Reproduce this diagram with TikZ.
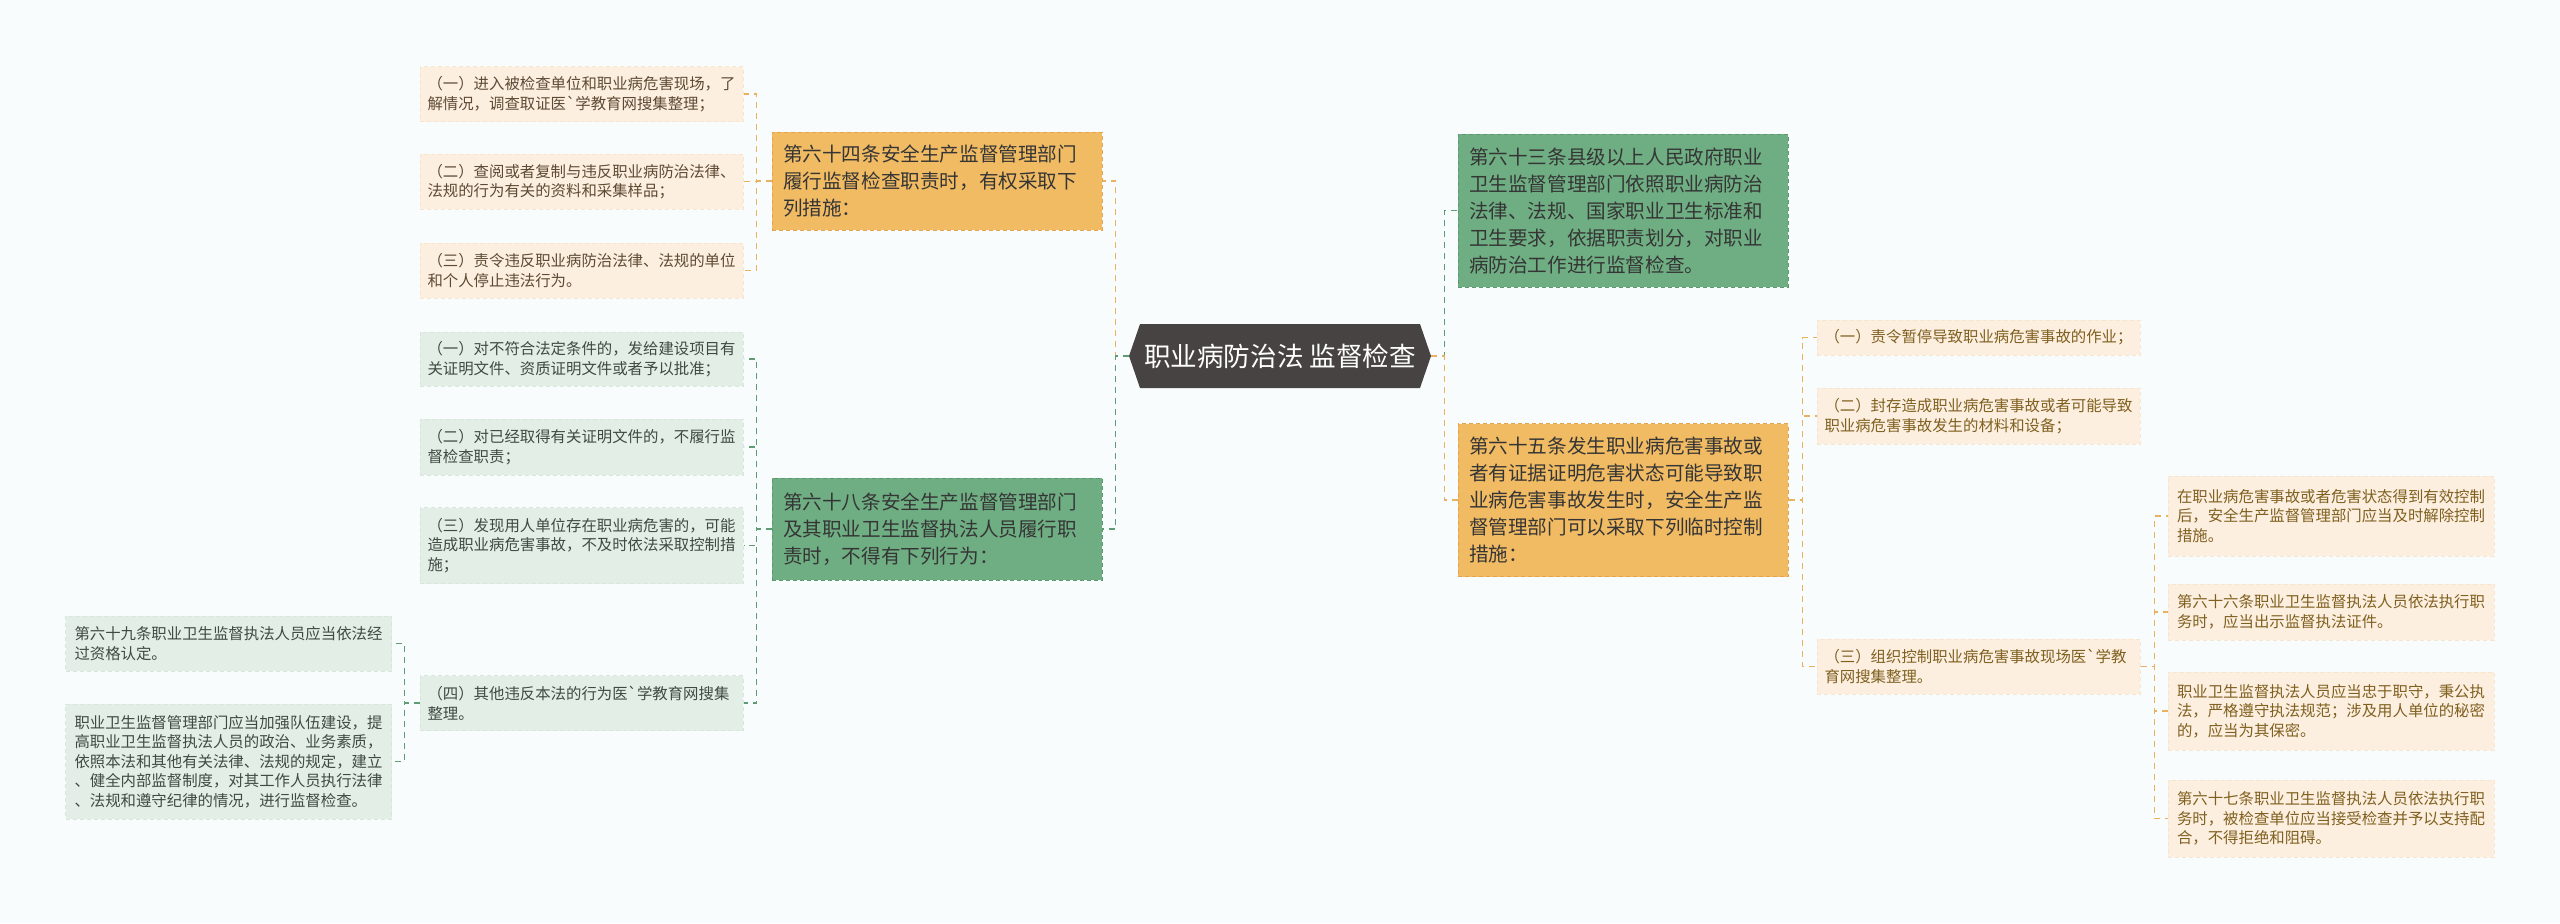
\documentclass[tikz,border=0pt]{standalone}
\usepackage{fontspec}
\newfontfamily\cjk{Noto Sans CJK SC}
\definecolor{bg}{HTML}{F8FCFD}
\definecolor{cdark}{HTML}{474343}
\definecolor{brO}{HTML}{F1BB64}
\definecolor{brOb}{HTML}{E2A44C}
\definecolor{brG}{HTML}{6FAE83}
\definecolor{brGb}{HTML}{5B9A6F}
\definecolor{lfO}{HTML}{FCEFE0}
\definecolor{lfOb}{HTML}{F8E5CE}
\definecolor{lfG}{HTML}{E3EEE6}
\definecolor{lfGb}{HTML}{D8E7DC}
\definecolor{cnO}{HTML}{E9B162}
\definecolor{cnG}{HTML}{5E9C73}
\definecolor{txA}{HTML}{5E4A33}
\definecolor{txD}{HTML}{80601F}
\definecolor{txG}{HTML}{3F4A42}
\definecolor{txB}{HTML}{353535}
\begin{document}
\begin{tikzpicture}[x=0.5pt,y=-0.5pt,
  boxbase/.style={align=left, dash pattern=on 2pt off 1.5pt, line width=0.5pt, inner ysep=2pt},
  branch/.style={boxbase, font=\cjk\fontsize{9.8}{13.5}\selectfont, text=txB, inner xsep=5.5pt, text width=154pt, minimum width=165pt},
  branchO/.style={branch, fill=brO, draw=brOb},
  branchG/.style={branch, fill=brG, draw=brGb},
  leaf/.style={boxbase, font=\cjk\fontsize{7.7}{9.75}\selectfont, inner xsep=3.6pt, text width=154pt, minimum width=161.5pt},
  leafA/.style={leaf, fill=lfO, draw=lfOb, text=txA},
  leafD/.style={leaf, fill=lfO, draw=lfOb, text=txD},
  leafG/.style={leaf, fill=lfG, draw=lfGb, text=txG},
  conn/.style={line width=0.75pt, dash pattern=on 3pt off 2.5pt},
  connO/.style={conn, draw=cnO},
  connG/.style={conn, draw=cnG},
  central/.style={font=\cjk\fontsize{13.3}{15}\selectfont, text=white, minimum width=151pt, minimum height=32pt, inner sep=0pt}
]
\useasboundingbox (0,0) rectangle (2560,923);
\fill[bg] (0,0) rectangle (2560,923);

% central hexagon
\coordinate (cc) at (1280,356);
\fill[cdark] ([shift={(-140,-32)}]cc) -- ([shift={(140,-32)}]cc) -- ([shift={(151,0)}]cc)
  -- ([shift={(140,32)}]cc) -- ([shift={(-140,32)}]cc) -- ([shift={(-151,0)}]cc) -- cycle;
\node[central] (c) at (cc) {职业病防治法 监督检查};

% main branches
\node[branchO, minimum height=49pt] (b1) at (937,181) {第六十四条安全生产监督管理部门\\履行监督检查职责时，有权采取下\\列措施：};
\node[branchG, minimum height=51pt] (b2) at (937,529) {第六十八条安全生产监督管理部门\\及其职业卫生监督执法人员履行职\\责时，不得有下列行为：};
\node[branchG, minimum height=76.5pt] (r1) at (1623,210.5) {第六十三条县级以上人民政府职业\\卫生监督管理部门依照职业病防治\\法律、法规、国家职业卫生标准和\\卫生要求，依据职责划分，对职业\\病防治工作进行监督检查。};
\node[branchO, minimum height=76.5pt] (r2) at (1623,500) {第六十五条发生职业病危害事故或\\者有证据证明危害状态可能导致职\\业病危害事故发生时，安全生产监\\督管理部门可以采取下列临时控制\\措施：};

% leaves of b1
\node[leafA, minimum height=27.5pt] (a1) at (581.5,94) {（一）进入被检查单位和职业病危害现场，了\\解情况，调查取证医`学教育网搜集整理；};
\node[leafA, minimum height=27.5pt] (a2) at (581.5,181.5) {（二）查阅或者复制与违反职业病防治法律、\\法规的行为有关的资料和采集样品；};
\node[leafA, minimum height=27.5pt] (a3) at (581.5,270.5) {（三）责令违反职业病防治法律、法规的单位\\和个人停止违法行为。};

% leaves of b2
\node[leafG, minimum height=27pt] (g1) at (581.5,359) {（一）对不符合法定条件的，发给建设项目有\\关证明文件、资质证明文件或者予以批准；};
\node[leafG, minimum height=28pt] (g2) at (581.5,447) {（二）对已经取得有关证明文件的，不履行监\\督检查职责；};
\node[leafG, minimum height=38pt] (g3) at (581.5,545.5) {（三）发现用人单位存在职业病危害的，可能\\造成职业病危害事故，不及时依法采取控制措\\施；};
\node[leafG, minimum height=27.5pt] (g4) at (581.5,703) {（四）其他违反本法的行为医`学教育网搜集\\整理。};

% leaves of g4
\node[leafG, minimum height=27.5pt, minimum width=163pt] (h1) at (228.5,643.5) {第六十九条职业卫生监督执法人员应当依法经\\过资格认定。};
\node[leafG, minimum height=57.5pt, minimum width=163pt] (h2) at (228.5,761.5) {职业卫生监督管理部门应当加强队伍建设，提\\高职业卫生监督执法人员的政治、业务素质，\\依照本法和其他有关法律、法规的规定，建立\\、健全内部监督制度，对其工作人员执行法律\\、法规和遵守纪律的情况，进行监督检查。};

% leaves of r2
\node[leafD, minimum height=17.5pt] (d1) at (1978.5,337.5) {（一）责令暂停导致职业病危害事故的作业；};
\node[leafD, minimum height=28pt] (d2) at (1978.5,416) {（二）封存造成职业病危害事故或者可能导致\\职业病危害事故发生的材料和设备；};
\node[leafD, minimum height=27.5pt] (d3) at (1978.5,666.5) {（三）组织控制职业病危害事故现场医`学教\\育网搜集整理。};

% leaves of d3
\node[leafD, minimum height=40pt, minimum width=163pt] (e1) at (2331,516) {在职业病危害事故或者危害状态得到有效控制\\后，安全生产监督管理部门应当及时解除控制\\措施。};
\node[leafD, minimum height=28pt, minimum width=163pt] (e2) at (2331,612) {第六十六条职业卫生监督执法人员依法执行职\\务时，应当出示监督执法证件。};
\node[leafD, minimum height=39pt, minimum width=163pt] (e3) at (2331,711) {职业卫生监督执法人员应当忠于职守，秉公执\\法，严格遵守执法规范；涉及用人单位的秘密\\的，应当为其保密。};
\node[leafD, minimum height=38.5pt, minimum width=163pt] (e4) at (2331,818.5) {第六十七条职业卫生监督执法人员依法执行职\\务时，被检查单位应当接受检查并予以支持配\\合，不得拒绝和阻碍。};

% connectors
\draw[connO] (c.west) -- ++(-13,0) |- (b1.east);
\draw[connG] (c.west) -- ++(-13,0) |- (b2.east);
\draw[connG] (c.east) -- ++(13,0) |- (r1.west);
\draw[connO] (c.east) -- ++(13,0) |- (r2.west);
\foreach \n in {a1,a2,a3} \draw[connO] (b1.west) -- ++(-15,0) |- (\n.east);
\foreach \n in {g1,g2,g3,g4} \draw[connG] (b2.west) -- ++(-15,0) |- (\n.east);
\foreach \n in {h1,h2} \draw[connG] (g4.west) -- ++(-15,0) |- (\n.east);
\foreach \n in {d1,d2,d3} \draw[connO] (r2.east) -- ++(14,0) |- (\n.west);
\foreach \n in {e1,e2,e3,e4} \draw[connO] (d3.east) -- ++(14,0) |- (\n.west);
\end{tikzpicture}
\end{document}
